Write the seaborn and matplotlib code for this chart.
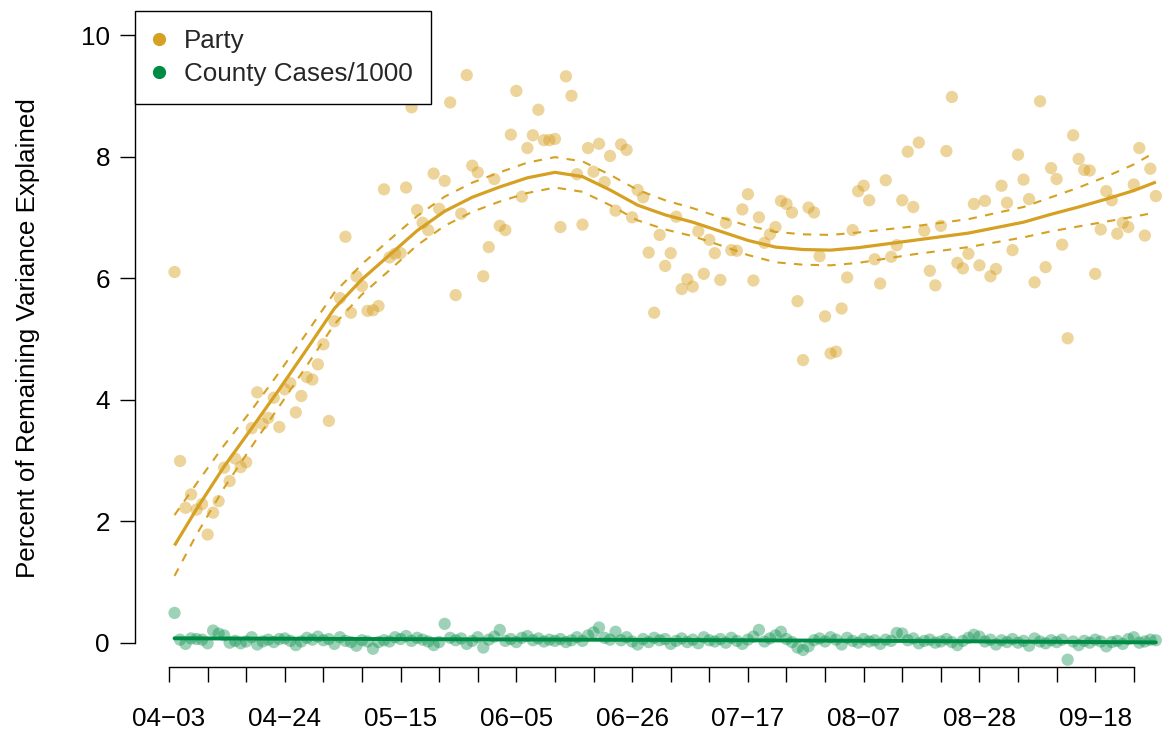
import numpy as np
import pandas as pd
import matplotlib
matplotlib.use("Agg")
import matplotlib.pyplot as plt
import matplotlib.dates as mdates
from matplotlib.lines import Line2D
import seaborn as sns

# ---------------- data ----------------
start_date = "2020-04-04"
party_vals = [
    6.10, 2.99, 2.22, 2.44, 2.19, 2.28, 1.78, 2.14, 2.33, 2.88,
    2.66, 3.03, 2.89, 2.97, 3.53, 4.12, 3.60, 3.70, 4.03, 3.55,
    4.17, 4.27, 3.79, 4.06, 4.37, 4.33, 4.58, 4.91, 3.65, 5.29,
    5.67, 6.68, 5.43, 6.03, 5.87, 5.46, 5.47, 5.54, 7.46, 6.34,
    6.40, 6.41, 7.49, 8.81, 7.12, 6.91, 6.79, 7.72, 7.14, 7.60,
    8.89, 5.72, 7.06, 9.34, 7.85, 7.74, 6.03, 6.51, 7.63, 6.86,
    6.79, 8.36, 9.08, 7.34, 8.14, 8.35, 8.77, 8.27, 8.27, 8.29,
    6.84, 9.32, 9.00, 7.71, 6.88, 8.14, 7.75, 8.21, 7.58, 8.01,
    7.11, 8.20, 8.11, 7.00, 7.45, 7.33, 6.42, 5.43, 6.71, 6.20,
    6.41, 7.01, 5.82, 5.98, 5.86, 6.77, 6.07, 6.63, 6.41, 5.97,
    6.91, 6.46, 6.45, 7.13, 7.38, 5.96, 7.00, 6.58, 6.72, 6.84,
    7.27, 7.22, 7.08, 5.62, 4.65, 7.16, 7.08, 6.36, 5.37, 4.76,
    4.79, 5.50, 6.01, 6.79, 7.43, 7.52, 7.28, 6.31, 5.91, 7.61,
    6.35, 6.54, 7.28, 8.08, 7.17, 8.23, 6.78, 6.12, 5.88, 6.86,
    8.09, 8.98, 6.25, 6.16, 6.40, 7.22, 6.21, 7.27, 6.03, 6.15,
    7.52, 7.24, 6.46, 8.03, 7.62, 7.30, 5.93, 8.91, 6.18, 7.81,
    7.63, 6.55, 5.01, 8.35, 7.96, 7.78, 7.77, 6.07, 6.80, 7.43,
    7.28, 6.73, 6.91, 6.84, 7.54, 8.14, 6.70, 7.80, 7.35,
]
cases_vals = [
    0.49, 0.05, -0.02, 0.07, 0.06, 0.05, -0.01, 0.20, 0.15, 0.12,
    0.00, 0.03, -0.01, 0.02, 0.09, -0.03, 0.02, 0.05, 0.01, 0.06,
    0.07, 0.03, -0.04, 0.02, 0.08, 0.05, 0.10, 0.04, 0.06, -0.02,
    0.09, 0.03, 0.01, -0.05, 0.04, 0.02, -0.10, 0.01, 0.04, 0.02,
    0.09, 0.06, 0.11, 0.03, 0.08, 0.05, 0.02, -0.04, 0.01, 0.31,
    0.08, 0.04, 0.07, -0.02, 0.03, 0.09, -0.08, 0.05, 0.10, 0.21,
    0.03, 0.06, 0.01, 0.08, 0.11, 0.04, 0.07, 0.02, 0.05, 0.03,
    0.06, 0.01, 0.04, 0.09, 0.03, 0.12, 0.17, 0.25, 0.08, 0.05,
    0.18, 0.04, 0.09, 0.02, -0.03, 0.06, 0.01, 0.08, 0.04, 0.06,
    -0.02, 0.03, 0.07, 0.01, 0.05, -0.01, 0.09, 0.04, 0.02, 0.06,
    0.00, 0.08, 0.03, -0.02, 0.05, 0.10, 0.21, 0.02, 0.07, 0.12,
    0.18, 0.06, 0.01, -0.08, -0.12, -0.06, 0.04, 0.07, 0.02, 0.09,
    0.05, -0.03, 0.08, 0.03, 0.00, 0.06, 0.02, 0.04, -0.02, 0.05,
    0.03, 0.16, 0.15, 0.04, 0.07, -0.01, 0.03, 0.05, 0.00, 0.02,
    0.06, 0.01, -0.04, 0.03, 0.08, 0.13, 0.10, 0.02, 0.05, -0.03,
    0.04, 0.01, 0.06, 0.00, 0.03, -0.05, 0.07, 0.02, -0.01, 0.04,
    0.01, 0.05, -0.28, 0.02, -0.04, 0.03, 0.00, 0.05, 0.02, -0.06,
    0.01, 0.03, -0.02, 0.06, 0.09, 0.00, 0.02, 0.05, 0.04,
]

# smooth curves (day offset from the first point)
party_fit_day = [0, 4, 9, 14, 19, 24, 29, 34, 39, 44, 49, 54, 59, 64, 69, 74,
                 79, 84, 89, 94, 99, 104, 109, 114, 119, 124, 129, 134, 139,
                 144, 149, 154, 159, 164, 169, 174, 178]
party_fit = [1.60, 2.20, 2.90, 3.53, 4.17, 4.83, 5.50, 5.98, 6.38, 6.78, 7.10,
             7.33, 7.50, 7.65, 7.74, 7.67, 7.45, 7.20, 7.04, 6.92, 6.77, 6.62,
             6.51, 6.47, 6.46, 6.50, 6.56, 6.62, 6.68, 6.74, 6.83, 6.92, 7.05,
             7.17, 7.30, 7.44, 7.58]
party_halfwidth = [0.50, 0.42, 0.35, 0.30, 0.28, 0.27, 0.26, 0.25, 0.25, 0.24,
                   0.24, 0.24, 0.24, 0.25, 0.25, 0.25, 0.25, 0.25, 0.24, 0.23,
                   0.23, 0.24, 0.25, 0.25, 0.25, 0.25, 0.24, 0.23, 0.23, 0.23,
                   0.24, 0.25, 0.28, 0.32, 0.37, 0.43, 0.50]
cases_fit_day = [0, 44, 89, 134, 178]
cases_fit = [0.072, 0.058, 0.045, 0.028, 0.005]

tick_start, tick_end = "2020-04-03", "2020-09-25"
series_names = ["Party", "County Cases/1000"]
y_ticks = [0, 2, 4, 6, 8, 10]
y_label = "Percent of Remaining Variance Explained"

# ---------------- styling ----------------
sns.set_theme(style="white")
plt.rcParams["font.family"] = ["Liberation Sans", "DejaVu Sans"]
GOLD = "#D6A022"
GREEN = "#008B45"
FS = 18.7

dates = pd.date_range(start_date, periods=len(party_vals), freq="D")
df = pd.DataFrame({"date": dates, "party": party_vals, "cases": cases_vals})
d0 = pd.Timestamp(start_date)
fit_df = pd.DataFrame({
    "date": [d0 + pd.Timedelta(days=d) for d in party_fit_day],
    "fit": party_fit,
    "lo": np.array(party_fit) - np.array(party_halfwidth),
    "hi": np.array(party_fit) + np.array(party_halfwidth),
})
cfit_df = pd.DataFrame({
    "date": [d0 + pd.Timedelta(days=d) for d in cases_fit_day],
    "fit": cases_fit,
})

W, H = 1167, 730
fig = plt.figure(figsize=(W / 100, H / 100), dpi=100)
ax_left, ax_bottom = 135 / W, (H - 667) / H
ax_w, ax_h = 1060 / W, (667 - 10.7) / H
ax = fig.add_axes([ax_left, ax_bottom, ax_w, ax_h])

sns.scatterplot(data=df, x="date", y="party", ax=ax, color=GOLD, alpha=0.45,
                s=78, edgecolor="none", legend=False, zorder=2)
sns.scatterplot(data=df, x="date", y="cases", ax=ax, color=GREEN, alpha=0.38,
                s=78, edgecolor="none", legend=False, zorder=2)
ax.plot(fit_df["date"], fit_df["fit"], color=GOLD, lw=2.3, zorder=3,
        solid_capstyle="butt")
for col in ["lo", "hi"]:
    ax.plot(fit_df["date"], fit_df[col], color=GOLD, lw=1.5, zorder=3,
            dashes=(4, 4))
ax.plot(cfit_df["date"], cfit_df["fit"], color=GREEN, lw=2.8, zorder=3)

t0, t1 = pd.Timestamp(tick_start), pd.Timestamp(tick_end)
x_left = t0 - pd.Timedelta(days=6.17)
x_right = t0 + pd.Timedelta(days=186.1)
ax.set_xlim(x_left, x_right)
ax.set_ylim(-0.4, 10.4)

ticks = pd.date_range(t0, t1, freq="7D")
ax.set_xticks(ticks)
ax.set_xticklabels([t.strftime("%m-%d").replace("-", "\u2212") if i % 3 == 0 else ""
                    for i, t in enumerate(ticks)])
ax.set_yticks(y_ticks)
ax.set_yticklabels([str(v) for v in y_ticks])

for s in ["top", "right"]:
    ax.spines[s].set_visible(False)
for s in ["left", "bottom"]:
    ax.spines[s].set_color("black")
    ax.spines[s].set_linewidth(1.0)
ax.spines["left"].set_bounds(0, 10)
ax.spines["bottom"].set_bounds(mdates.date2num(t0), mdates.date2num(t1))
ax.tick_params(axis="both", which="major", length=11, width=1.0, color="black",
               labelsize=FS, labelcolor="black", direction="out",
               bottom=True, left=True, top=False, right=False)
ax.tick_params(axis="x", pad=18)
ax.tick_params(axis="y", pad=7)
ax.set_xlabel("")
ax.set_ylabel("")
ax.grid(False)
ax.set_facecolor("white")

fig.text(28 / W, 1 - 338 / H, y_label, rotation=90, ha="center", va="center",
         fontsize=FS, color="black")

handles = [Line2D([0], [0], marker="o", ls="none", color=GOLD, markersize=8.5),
           Line2D([0], [0], marker="o", ls="none", color=GREEN, markersize=8.5)]
leg = ax.legend(handles, series_names, loc="upper left", bbox_to_anchor=(0, 1),
                borderaxespad=0, frameon=True, fancybox=False, fontsize=FS,
                handlelength=0.38, handletextpad=0.77, labelspacing=0.32,
                borderpad=0.72)
leg.get_frame().set_edgecolor("black")
leg.get_frame().set_linewidth(1.0)
leg.get_frame().set_alpha(1)
leg.set_zorder(5)

fig.savefig("out.png", dpi=100)
